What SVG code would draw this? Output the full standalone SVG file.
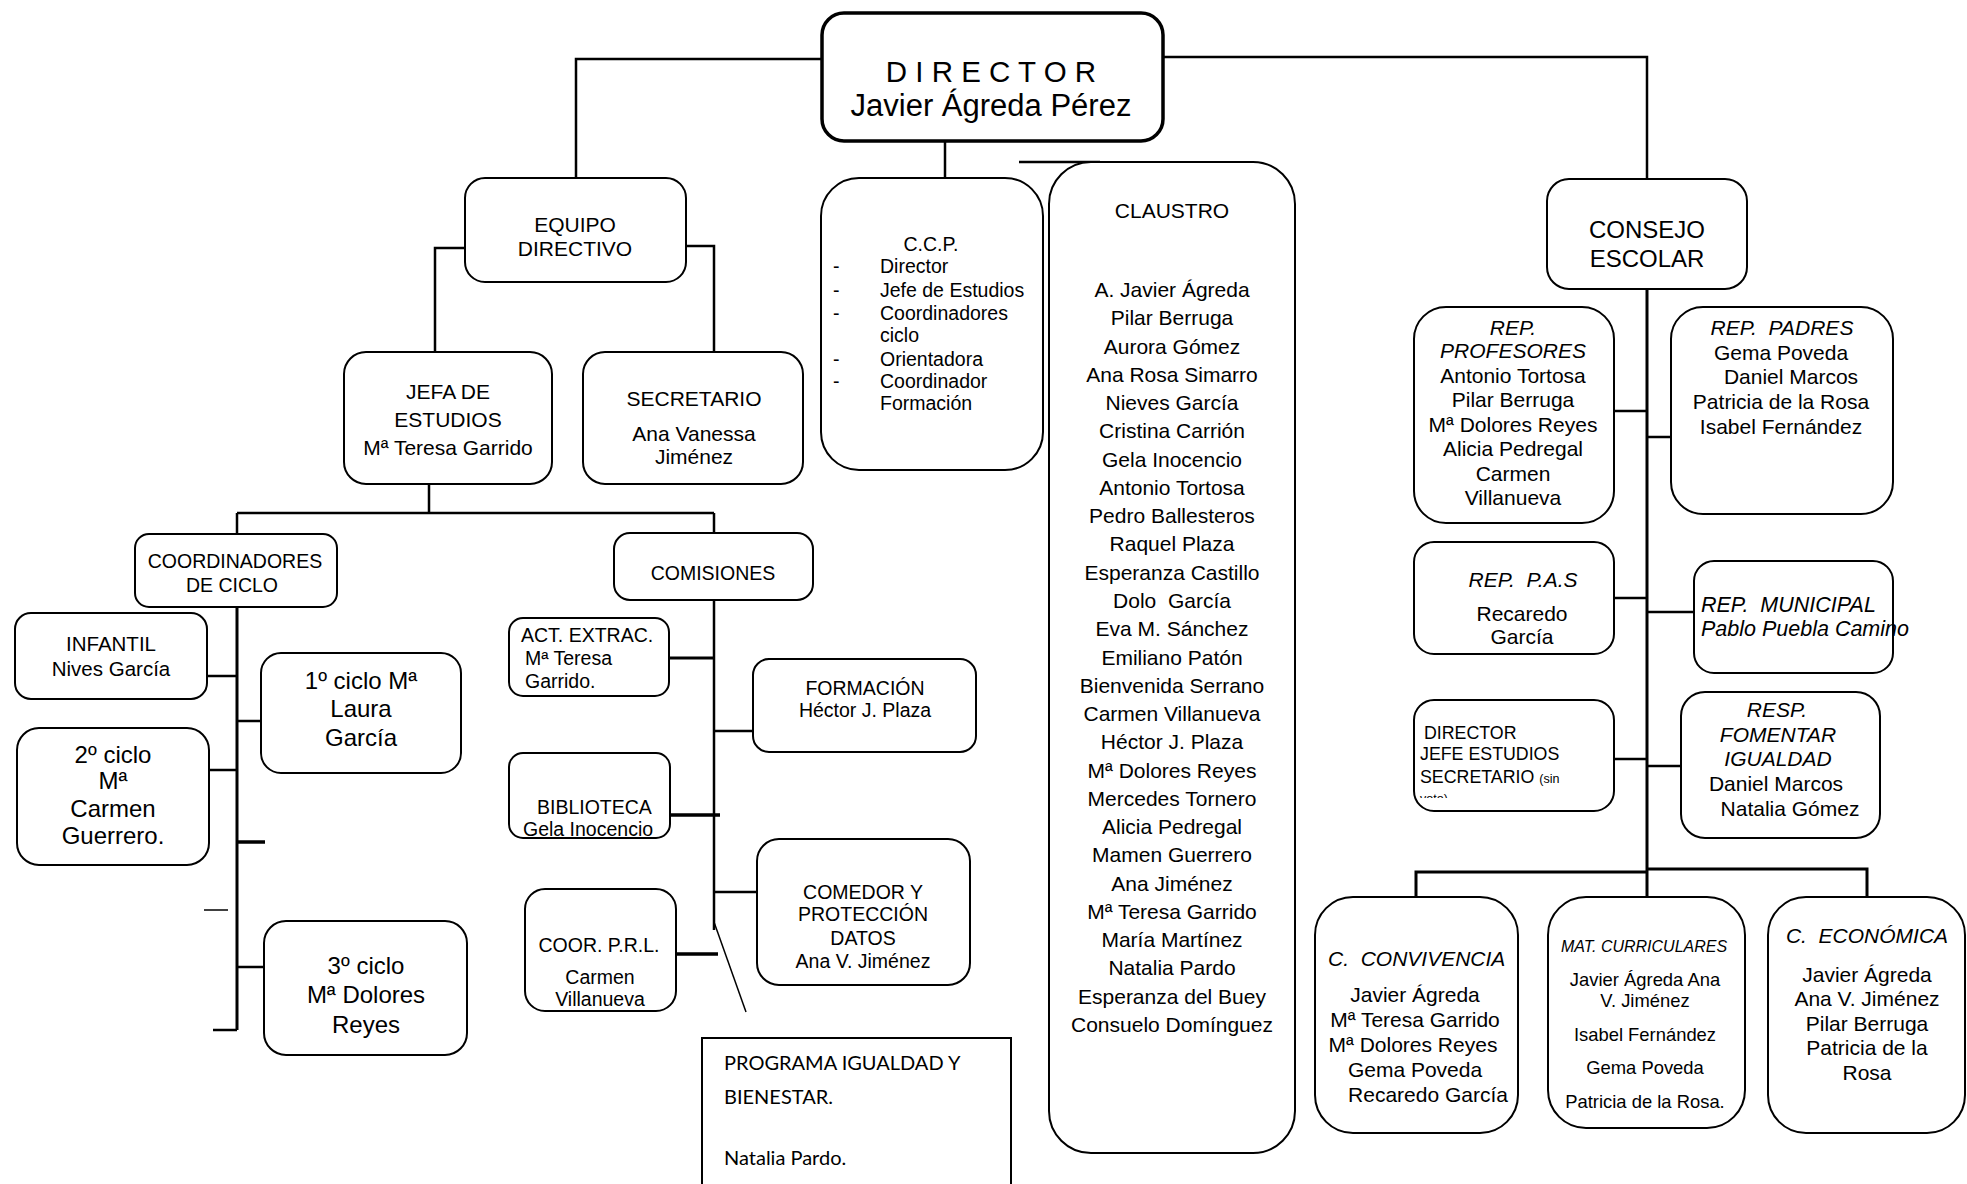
<svg xmlns="http://www.w3.org/2000/svg" width="1967" height="1184" viewBox="0 0 1967 1184">
<style>
.b{fill:#fff;stroke:#000;stroke-width:2}
.c{stroke:#000;stroke-width:2.5;fill:none}
.t{font-family:"Liberation Sans",Arial,sans-serif;font-size:21px;fill:#000}
.m{text-anchor:middle}
.i{font-style:italic}
.s19{font-size:19.5px}
.s24{font-size:24px}
.p{white-space:pre}
</style>
<defs>
<clipPath id="cv"><rect x="1414" y="700" width="200" height="98"/></clipPath>
</defs>
<rect width="1967" height="1184" fill="#fff"/>
<g id="connectors">
<path class="c" d="M822,59H576V178"/>
<path class="c" d="M1163,57H1647V179"/>
<path class="c" d="M945,140V178"/>
<path class="c" d="M1019,162H1100"/>
<path class="c" d="M465,248H435V352"/>
<path class="c" d="M686,246H714V356"/>
<path class="c" d="M429,484V513M237,513H714M237,513V534M714,513V533"/>
<path class="c" style="stroke-width:3" d="M237,607V1030"/>
<path class="c" d="M207,676H237M237,721H261M209,770H237M237,967H264M213,1030H237"/>
<path class="c" style="stroke-width:3.5" d="M237,842H265"/>
<path class="c" style="stroke-width:1.5" d="M204,910H228"/>
<path class="c" d="M714,600V930"/>
<path class="c" style="stroke-width:1.5" d="M714,922L746,1012"/>
<path class="c" style="stroke-width:3" d="M666,658H714"/>
<path class="c" d="M714,731H753M714,892H757"/>
<path class="c" style="stroke-width:3.5" d="M668,815H720M676,954H718"/>
<path class="c" style="stroke-width:3" d="M1647,290V897"/>
<path class="c" d="M1614,411H1647M1647,437H1671M1614,598H1647M1647,612H1694M1614,759H1647M1647,766H1681"/>
<path class="c" style="stroke-width:3" d="M1416,897V872H1647M1647,869H1867V897"/>
</g>
<g id="director">
<rect class="b" style="stroke-width:3.5" x="822" y="13" width="341" height="128" rx="22"/>
<text class="t m" x="991" y="82" style="font-size:29.5px">D I R E C T O R</text>
<text class="t m" x="991" y="116" style="font-size:31px">Javier Ágreda Pérez</text>
</g>
<g id="equipo">
<rect class="b" x="465" y="178" width="221" height="104" rx="20"/>
<text class="t m" x="575" y="232">EQUIPO</text>
<text class="t m" x="575" y="256">DIRECTIVO</text>
</g>
<g id="jefa">
<rect class="b" x="344" y="352" width="208" height="132" rx="22"/>
<text class="t m" x="448" y="399">JEFA DE</text>
<text class="t m" x="448" y="427">ESTUDIOS</text>
<text class="t m" x="448" y="455">Mª Teresa Garrido</text>
</g>
<g id="secretario">
<rect class="b" x="583" y="352" width="220" height="132" rx="22"/>
<text class="t m" x="694" y="406">SECRETARIO</text>
<text class="t m" x="694" y="441">Ana Vanessa</text>
<text class="t m" x="694" y="464">Jiménez</text>
</g>
<g id="ccp">
<rect class="b" x="821" y="178" width="222" height="292" rx="38"/>
<g class="t s19">
<text class="m" x="931" y="251">C.C.P.</text>
<text x="833" y="273">-</text><text x="880" y="273">Director</text>
<text x="833" y="297">-</text><text x="880" y="297">Jefe de Estudios</text>
<text x="833" y="320">-</text><text x="880" y="320">Coordinadores</text>
<text x="880" y="342">ciclo</text>
<text x="833" y="366">-</text><text x="880" y="366">Orientadora</text>
<text x="833" y="388">-</text><text x="880" y="388">Coordinador</text>
<text x="880" y="410">Formación</text>
</g>
</g>
<g id="claustro">
<rect class="b" x="1049" y="162" width="246" height="991" rx="42"/>
<text class="t m" x="1172" y="218">CLAUSTRO</text>
<text class="t m p" xml:space="preserve" x="1172" y="297"><tspan x="1172">A. Javier Ágreda</tspan><tspan x="1172" dy="28.27">Pilar Berruga</tspan><tspan x="1172" dy="28.27">Aurora Gómez</tspan><tspan x="1172" dy="28.27">Ana Rosa Simarro</tspan><tspan x="1172" dy="28.27">Nieves García</tspan><tspan x="1172" dy="28.27">Cristina Carrión</tspan><tspan x="1172" dy="28.27">Gela Inocencio</tspan><tspan x="1172" dy="28.27">Antonio Tortosa</tspan><tspan x="1172" dy="28.27">Pedro Ballesteros</tspan><tspan x="1172" dy="28.27">Raquel Plaza</tspan><tspan x="1172" dy="28.27">Esperanza Castillo</tspan><tspan x="1172" dy="28.27">Dolo  García</tspan><tspan x="1172" dy="28.27">Eva M. Sánchez</tspan><tspan x="1172" dy="28.27">Emiliano Patón</tspan><tspan x="1172" dy="28.27">Bienvenida Serrano</tspan><tspan x="1172" dy="28.27">Carmen Villanueva</tspan><tspan x="1172" dy="28.27">Héctor J. Plaza</tspan><tspan x="1172" dy="28.27">Mª Dolores Reyes</tspan><tspan x="1172" dy="28.27">Mercedes Tornero</tspan><tspan x="1172" dy="28.27">Alicia Pedregal</tspan><tspan x="1172" dy="28.27">Mamen Guerrero</tspan><tspan x="1172" dy="28.27">Ana Jiménez</tspan><tspan x="1172" dy="28.27">Mª Teresa Garrido</tspan><tspan x="1172" dy="28.27">María Martínez</tspan><tspan x="1172" dy="28.27">Natalia Pardo</tspan><tspan x="1172" dy="28.27">Esperanza del Buey</tspan><tspan x="1172" dy="28.27">Consuelo Domínguez</tspan></text>
</g>
<g id="consejo">
<rect class="b" x="1547" y="179" width="200" height="110" rx="22"/>
<text class="t m" x="1647" y="238" style="font-size:24px">CONSEJO</text>
<text class="t m" x="1647" y="267" style="font-size:24px">ESCOLAR</text>
</g>
<g id="coordinadores">
<rect class="b" x="135" y="534" width="202" height="73" rx="14"/>
<text class="t m" x="235" y="568" style="font-size:19.5px">COORDINADORES</text>
<text class="t m" x="232" y="592" style="font-size:19.5px">DE CICLO</text>
</g>
<g id="comisiones">
<rect class="b" x="614" y="533" width="199" height="67" rx="16"/>
<text class="t m s19" x="713" y="580">COMISIONES</text>
</g>
<g id="infantil">
<rect class="b" x="15" y="613" width="192" height="86" rx="16"/>
<text class="t m" x="111" y="651" style="font-size:20.5px">INFANTIL</text>
<text class="t m" x="111" y="676" style="font-size:20.5px">Nives García</text>
</g>
<g id="ciclo1">
<rect class="b" x="261" y="653" width="200" height="120" rx="20"/>
<text class="t m s24" x="361" y="689">1º ciclo Mª</text>
<text class="t m s24" x="361" y="717">Laura</text>
<text class="t m s24" x="361" y="746">García</text>
</g>
<g id="ciclo2">
<rect class="b" x="17" y="728" width="192" height="137" rx="22"/>
<text class="t m s24" x="113" y="763">2º ciclo</text>
<text class="t m s24" x="113" y="789">Mª</text>
<text class="t m s24" x="113" y="817">Carmen</text>
<text class="t m s24" x="113" y="844">Guerrero.</text>
</g>
<g id="ciclo3">
<rect class="b" x="264" y="921" width="203" height="134" rx="22"/>
<text class="t m s24" x="366" y="974">3º ciclo</text>
<text class="t m s24" x="366" y="1003">Mª Dolores</text>
<text class="t m s24" x="366" y="1033">Reyes</text>
</g>
<g id="actextrac">
<rect class="b" x="509" y="618" width="160" height="78" rx="14"/>
<text class="t s19" x="521" y="642">ACT. EXTRAC.</text>
<text class="t s19" x="525" y="665">Mª Teresa</text>
<text class="t s19" x="525" y="688">Garrido.</text>
</g>
<g id="formacion">
<rect class="b" x="753" y="659" width="223" height="93" rx="16"/>
<text class="t m s19" x="865" y="695">FORMACIÓN</text>
<text class="t m s19" x="865" y="717">Héctor J. Plaza</text>
</g>
<g id="biblioteca">
<rect class="b" x="509" y="753" width="161" height="85" rx="14"/>
<text class="t s19" x="537" y="814">BIBLIOTECA</text>
<text class="t s19" x="523" y="836">Gela Inocencio</text>
</g>
<g id="comedor">
<rect class="b" x="757" y="839" width="213" height="146" rx="22"/>
<text class="t m s19" x="863" y="899">COMEDOR Y</text>
<text class="t m s19" x="863" y="921">PROTECCIÓN</text>
<text class="t m s19" x="863" y="945">DATOS</text>
<text class="t m s19" x="863" y="968">Ana V. Jiménez</text>
</g>
<g id="prl">
<rect class="b" x="525" y="889" width="151" height="122" rx="20"/>
<text class="t m s19" x="599" y="952">COOR. P.R.L.</text>
<text class="t m s19" x="600" y="984">Carmen</text>
<text class="t m s19" x="600" y="1006">Villanueva</text>
</g>
<g id="programa">
<rect x="702" y="1038" width="309" height="160" fill="#fff" stroke="#000" stroke-width="2"/>
<text x="724" y="1070" style="font-family:Lato,'Open Sans',sans-serif;font-size:20px">PROGRAMA IGUALDAD Y</text>
<text x="724" y="1104" style="font-family:Lato,'Open Sans',sans-serif;font-size:20px">BIENESTAR.</text>
<text x="724" y="1165" style="font-family:Lato,'Open Sans',sans-serif;font-size:20px">Natalia Pardo.</text>
</g>
<g id="repprofesores">
<rect class="b" x="1414" y="307" width="200" height="216" rx="32"/>
<text class="t m i" x="1513" y="335">REP.</text>
<text class="t m i" x="1513" y="358">PROFESORES</text>
<text class="t m" x="1513" y="383">Antonio Tortosa</text>
<text class="t m" x="1513" y="407">Pilar Berruga</text>
<text class="t m" x="1513" y="432">Mª Dolores Reyes</text>
<text class="t m" x="1513" y="456">Alicia Pedregal</text>
<text class="t m" x="1513" y="481">Carmen</text>
<text class="t m" x="1513" y="505">Villanueva</text>
</g>
<g id="reppadres">
<rect class="b" x="1671" y="307" width="222" height="207" rx="32"/>
<text class="t m i p" xml:space="preserve" x="1782" y="335">REP.  PADRES</text>
<text class="t m" x="1781" y="360">Gema Poveda</text>
<text class="t m" x="1791" y="384">Daniel Marcos</text>
<text class="t m" x="1781" y="409">Patricia de la Rosa</text>
<text class="t m" x="1781" y="434">Isabel Fernández</text>
</g>
<g id="reppas">
<rect class="b" x="1414" y="542" width="200" height="112" rx="20"/>
<text class="t m i p" xml:space="preserve" x="1523" y="587">REP.  P.A.S</text>
<text class="t m" x="1522" y="621">Recaredo</text>
<text class="t m" x="1522" y="644">García</text>
</g>
<g id="repmunicipal">
<rect class="b" x="1694" y="561" width="199" height="112" rx="20"/>
<text class="t i p" xml:space="preserve" x="1701" y="612" style="font-size:21.5px">REP.  MUNICIPAL</text>
<text class="t i" x="1701" y="636" style="font-size:21.5px">Pablo Puebla Camino</text>
</g>
<g id="directorjefe">
<rect class="b" x="1414" y="700" width="200" height="111" rx="20"/>
<text class="t" x="1424" y="739" style="font-size:17.8px">DIRECTOR</text>
<text class="t" x="1420" y="760" style="font-size:17.8px">JEFE ESTUDIOS</text>
<text class="t" x="1420" y="783" style="font-size:17.8px">SECRETARIO <tspan style="font-size:12.5px">(sin</tspan></text>
<text class="t" x="1420" y="803" clip-path="url(#cv)" style="font-size:12.5px">voto)</text>
</g>
<g id="respigualdad">
<rect class="b" x="1681" y="692" width="199" height="146" rx="24"/>
<text class="t m i" x="1777" y="717">RESP.</text>
<text class="t m i" x="1778" y="742">FOMENTAR</text>
<text class="t m i" x="1778" y="766">IGUALDAD</text>
<text class="t m" x="1776" y="791">Daniel Marcos</text>
<text class="t m" x="1790" y="816">Natalia Gómez</text>
</g>
<g id="convivencia">
<rect class="b" x="1315" y="897" width="203" height="236" rx="38"/>
<text class="t i p" xml:space="preserve" x="1328" y="966">C.  CONVIVENCIA</text>
<text class="t m" x="1415" y="1002">Javier Ágreda</text>
<text class="t m" x="1415" y="1027">Mª Teresa Garrido</text>
<text class="t m" x="1413" y="1052">Mª Dolores Reyes</text>
<text class="t m" x="1415" y="1077">Gema Poveda</text>
<text class="t m" x="1428" y="1102">Recaredo García</text>
</g>
<g id="curriculares">
<rect class="b" x="1548" y="897" width="197" height="231" rx="38"/>
<text class="t m i" x="1644" y="952" style="font-size:16px">MAT. CURRICULARES</text>
<text class="t m" x="1645" y="986" style="font-size:18.4px">Javier Ágreda Ana</text>
<text class="t m" x="1645" y="1007" style="font-size:18.4px">V. Jiménez</text>
<text class="t m" x="1645" y="1041" style="font-size:18.4px">Isabel Fernández</text>
<text class="t m" x="1645" y="1074" style="font-size:18.4px">Gema Poveda</text>
<text class="t m" x="1645" y="1108" style="font-size:18.4px">Patricia de la Rosa.</text>
</g>
<g id="economica">
<rect class="b" x="1768" y="897" width="197" height="236" rx="38"/>
<text class="t m i p" xml:space="preserve" x="1867" y="943">C.  ECONÓMICA</text>
<text class="t m" x="1867" y="982">Javier Ágreda</text>
<text class="t m" x="1867" y="1006">Ana V. Jiménez</text>
<text class="t m" x="1867" y="1031">Pilar Berruga</text>
<text class="t m" x="1867" y="1055">Patricia de la</text>
<text class="t m" x="1867" y="1080">Rosa</text>
</g>
</svg>
